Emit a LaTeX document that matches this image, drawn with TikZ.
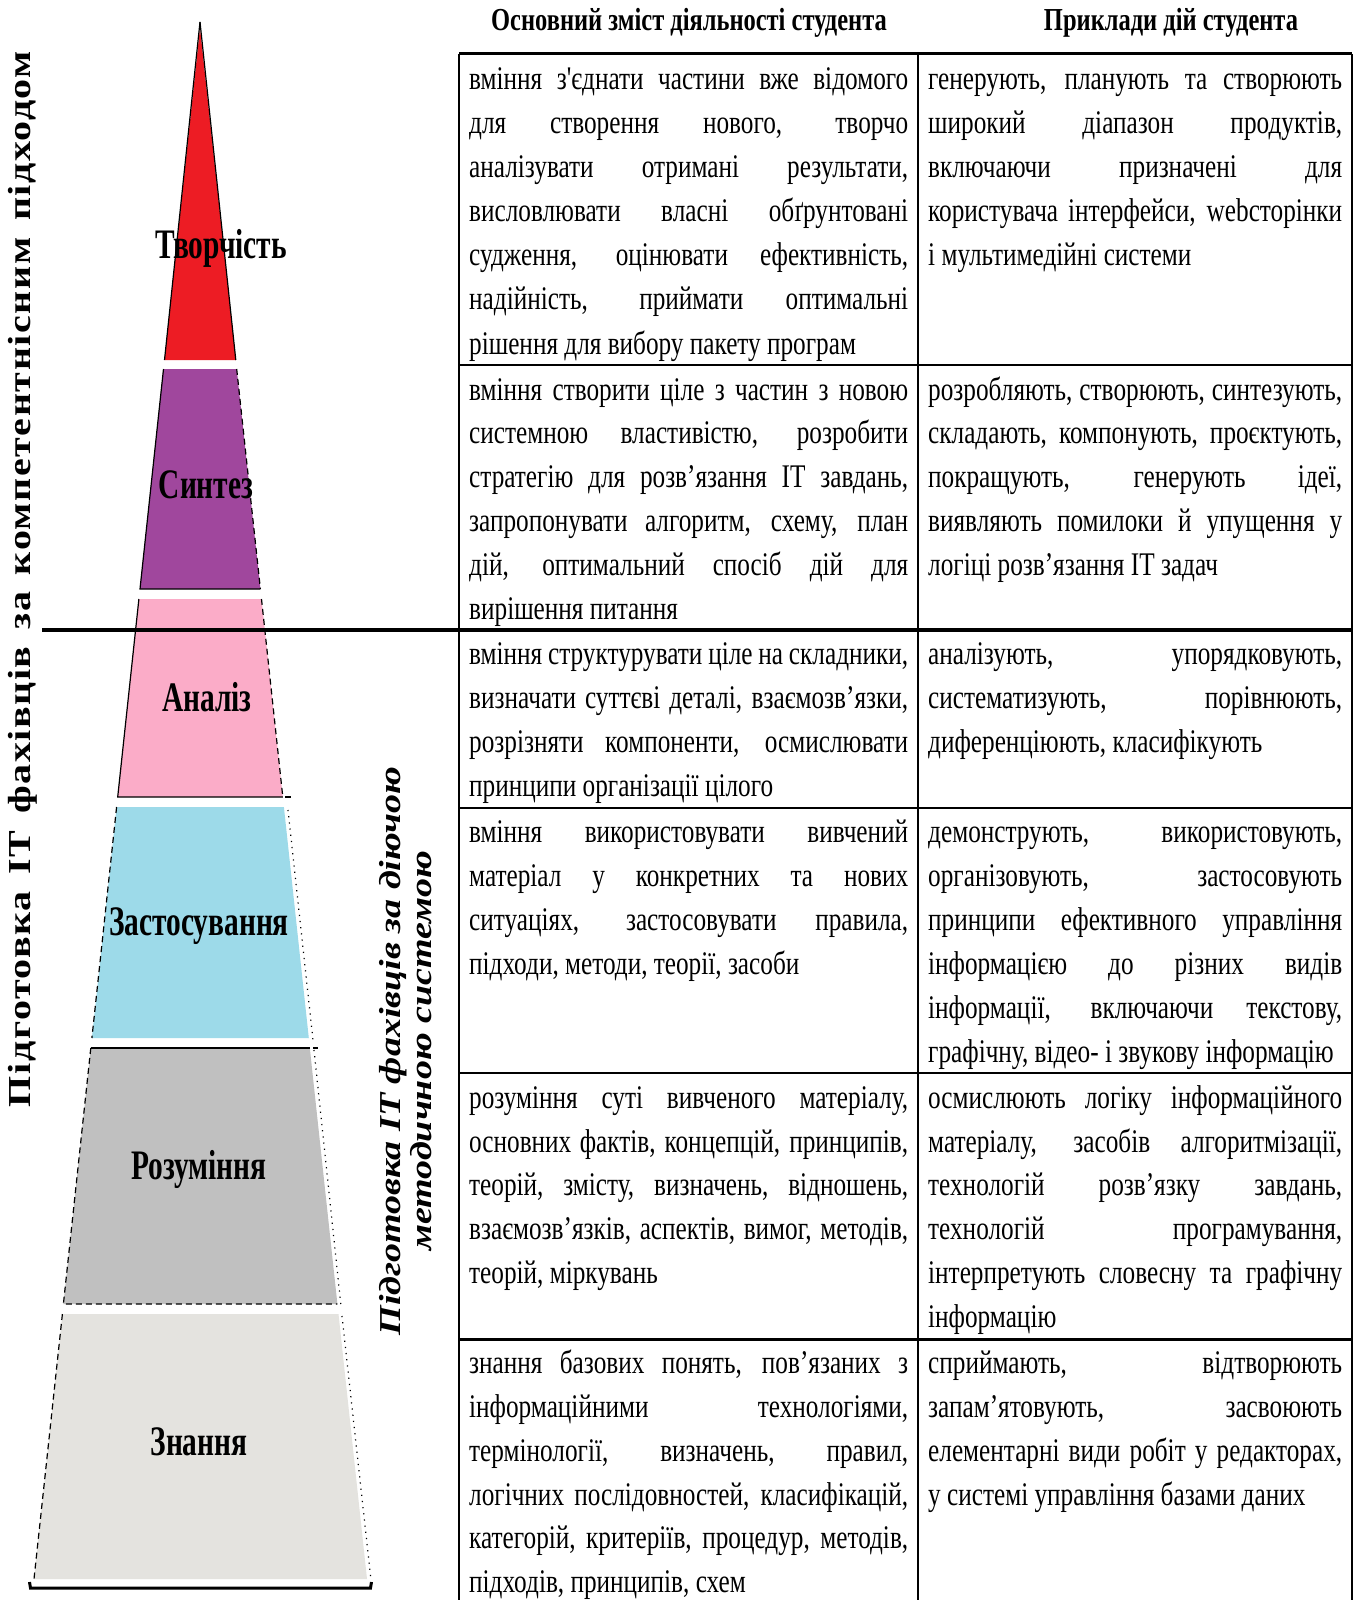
\documentclass[tikz,border=0pt]{standalone}
\usepackage{fontspec}
\usepackage{graphicx}
\setmainfont{Liberation Serif}
\newfontfamily\tabfont{Liberation Serif}[FakeStretch=0.765]
\newfontfamily\labfont{Liberation Serif}[FakeStretch=0.7]
\newfontfamily\vfont{Liberation Serif}[LetterSpace=4]
\definecolor{cred}{HTML}{ED1C24}
\definecolor{cpurple}{HTML}{A0479D}
\definecolor{cpink}{HTML}{FBACC8}
\definecolor{cblue}{HTML}{9DDAE9}
\definecolor{cgray}{HTML}{C0C0C0}
\definecolor{clight}{HTML}{E4E3DF}
\tikzset{
  lab/.style={font=\labfont\bfseries\fontsize{42}{44}\selectfont, inner sep=0pt},
  cell/.style={font=\tabfont\fontsize{33}{38}\selectfont, inner sep=0pt, anchor=mid west},
  hdr/.style={font=\tabfont\bfseries\fontsize{32}{36}\selectfont, inner sep=0pt},
  edge/.style={line width=1.2pt, black},
  dedge/.style={line width=1.2pt, black, dash pattern=on 6pt off 4pt},
  oedge/.style={line width=1.2pt, black, dash pattern=on 1.2pt off 5pt},
  grid/.style={line width=1.3pt, black},
  rowline/.style={line width=2pt, black},
}
\newcommand\JA[3]{\node[cell] (#1) at (469,{#2+7}) {\makebox[439pt][s]{#3}};}
\newcommand\NA[3]{\node[cell] (#1) at (469,{#2+7}) {#3};}
\newcommand\JB[3]{\node[cell] (#1) at (928,{#2+7}) {\makebox[414pt][s]{#3}};}
\newcommand\NB[3]{\node[cell] (#1) at (928,{#2+7}) {#3};}
\begin{document}
\begin{tikzpicture}[x=1pt,y=-1pt]
\useasboundingbox (0,0) rectangle (1360,1600);
\fill[white] (0,0) rectangle (1360,1600);
% pyramid layers
\fill[cred] (200,28) -- (235.8,360) -- (164.5,360) -- cycle;
\fill[cpurple] (163.5,369) -- (236.7,369) -- (260.4,589) -- (140,589) -- cycle;
\fill[cpink] (138.9,599) -- (261.5,599) -- (282.8,797) -- (117.7,797) -- cycle;
\fill[cblue] (116.6,807) -- (283.9,807) -- (308.8,1038) -- (91.9,1038) -- cycle;
\fill[cgray] (90.8,1048) -- (309.8,1048) -- (337.4,1304) -- (63.4,1304) -- cycle;
\fill[clight] (62.4,1314) -- (338.5,1314) -- (367,1579) -- (34,1579) -- cycle;
% outlines
\draw[edge] (200,22) -- (164.5,360);
\draw[edge] (200,22) -- (235.8,360);
\draw[edge] (163.5,369) -- (140,589) -- (260.4,589);
\draw[dedge] (236.7,369) -- (260.4,589);
\draw[edge] (138.9,599) -- (117.7,797) -- (282.8,797);
\draw[edge] (285,797) -- (291,797);
\draw[dedge] (261.5,599) -- (282.8,797);
\draw[dedge] (116.6,807) -- (91.9,1038);
\draw[oedge] (288,810) -- (313,1040);
\draw[edge] (90.8,1048) -- (309.8,1048);
\draw[edge] (313,1048) -- (318,1048);
\draw[dedge] (90.8,1048) -- (63.4,1304) -- (337.4,1304);
\draw[oedge] (314,1050) -- (341,1306);
\draw[dedge] (62.4,1314) -- (34,1579);
\draw[oedge] (342,1316) -- (371,1580);
\draw[line width=3pt] (29.5,1582) -- (30.5,1588) -- (370.5,1588) -- (371.5,1582);
% labels
\node[lab] (tvor) at (221,248) {Творчість};
\node[lab] (synt) at (206,485) {Синтез};
\node[lab] (anal) at (207,697) {Аналіз};
\node[lab] (zast) at (199,926) {Застосування};
\node[lab] (rozum) at (199,1169) {Розуміння};
\node[lab] (znan) at (199,1442) {Знання};
% vertical texts
\node[rotate=90, inner sep=0pt] (vleft) at (23,579) {\scalebox{1}[0.8]{\vfont\bfseries\fontsize{40}{42}\selectfont\makebox[1056pt][s]{Підготовка ІТ фахівців за компетентнісним підходом}}};
\node[rotate=90, inner sep=0pt] (vit1) at (393,1051) {\scalebox{1}[0.8]{\bfseries\itshape\fontsize{38}{40}\selectfont Підготовка ІТ фахівців за діючою}};
\node[rotate=90, inner sep=0pt] (vit2) at (421,1051) {\scalebox{1}[0.8]{\bfseries\itshape\fontsize{38}{40}\selectfont методичною системою}};
% table lines
\draw[line width=3pt] (459,54) -- (1352,54);
\draw[grid] (459,54) -- (459,1600);
\draw[grid] (918,54) -- (918,1600);
\draw[grid] (1352,54) -- (1352,1600);
\draw[rowline] (459,365) -- (1352,365);
\draw[line width=4pt] (42,630) -- (1352,630);
\draw[rowline] (459,808) -- (1352,808);
\draw[rowline] (459,1073) -- (1352,1073);
\draw[line width=3pt] (459,1339) -- (1352,1339);
% headers
\node[hdr] (h1) at (689,23) {Основний зміст діяльності студента};
\node[hdr] (h2) at (1171,23) {Приклади дій студента};
% row 1
\JA{a11}{80.6}{вміння з'єднати частини вже відомого}
\JA{a12}{124.5}{для створення нового, творчо}
\JA{a13}{168.4}{аналізувати отримані результати,}
\JA{a14}{212.2}{висловлювати власні обґрунтовані}
\JA{a15}{256.1}{судження, оцінювати ефективність,}
\JA{a16}{300.0}{надійність, приймати оптимальні}
\NA{a17}{344.9}{рішення для вибору пакету програм}
\JB{b11}{80.6}{генерують, планують та створюють}
\JB{b12}{124.5}{широкий діапазон продуктів,}
\JB{b13}{168.4}{включаючи призначені для}
\JB{b14}{212.2}{користувача інтерфейси, webсторінки}
\NB{b15}{256.1}{і мультимедійні системи}
% row 2
\JA{a21}{390.8}{вміння створити ціле з частин з новою}
\JA{a22}{434.6}{системною властивістю, розробити}
\JA{a23}{478.5}{стратегію для розв’язання ІТ завдань,}
\JA{a24}{522.4}{запропонувати алгоритм, схему, план}
\JA{a25}{566.3}{дій, оптимальний спосіб дій для}
\NA{a26}{610.1}{вирішення питання}
\JB{b21}{390.8}{розробляють, створюють, синтезують,}
\JB{b22}{434.6}{складають, компонують, проєктують,}
\JB{b23}{478.5}{покращують, генерують ідеї,}
\JB{b24}{522.4}{виявляють помилоки й упущення у}
\NB{b25}{566.3}{логіці розв’язання ІТ задач}
% row 3
\JA{a31}{655.0}{вміння структурувати ціле на складники,}
\JA{a32}{698.9}{визначати суттєві деталі, взаємозв’язки,}
\JA{a33}{742.8}{розрізняти компоненти, осмислювати}
\NA{a34}{786.7}{принципи організації цілого}
\JB{b31}{655.0}{аналізують, упорядковують,}
\JB{b32}{698.9}{систематизують, порівнюють,}
\NB{b33}{742.8}{диференціюють, класифікують}
% row 4
\JA{a41}{833.6}{вміння використовувати вивчений}
\JA{a42}{877.5}{матеріал у конкретних та нових}
\JA{a43}{921.3}{ситуаціях, застосовувати правила,}
\NA{a44}{965.2}{підходи, методи, теорії, засоби}
\JB{b41}{833.6}{демонструють, використовують,}
\JB{b42}{877.5}{організовують, застосовують}
\JB{b43}{921.3}{принципи ефективного управління}
\JB{b44}{965.2}{інформацією до різних видів}
\JB{b45}{1009.1}{інформації, включаючи текстову,}
\NB{b46}{1052.9}{графічну, відео- і звукову інформацію}
% row 5
\JA{a51}{1098.9}{розуміння суті вивченого матеріалу,}
\JA{a52}{1142.7}{основних фактів, концепцій, принципів,}
\JA{a53}{1186.6}{теорій, змісту, визначень, відношень,}
\JA{a54}{1230.5}{взаємозв’язків, аспектів, вимог, методів,}
\NA{a55}{1274.4}{теорій, міркувань}
\JB{b51}{1098.9}{осмислюють логіку інформаційного}
\JB{b52}{1142.7}{матеріалу, засобів алгоритмізації,}
\JB{b53}{1186.6}{технологій розв’язку завдань,}
\JB{b54}{1230.5}{технологій програмування,}
\JB{b55}{1274.4}{інтерпретують словесну та графічну}
\NB{b56}{1318.2}{інформацію}
% row 6
\JA{a61}{1364.1}{знання базових понять, пов’язаних з}
\JA{a62}{1408.0}{інформаційними технологіями,}
\JA{a63}{1451.9}{термінології, визначень, правил,}
\JA{a64}{1495.8}{логічних послідовностей, класифікацій,}
\JA{a65}{1539.6}{категорій, критеріїв, процедур, методів,}
\NA{a66}{1583.5}{підходів, принципів, схем}
\JB{b61}{1364.1}{сприймають, відтворюють}
\JB{b62}{1408.0}{запам’ятовують, засвоюють}
\JB{b63}{1451.9}{елементарні види робіт у редакторах,}
\NB{b64}{1495.8}{у системі управління базами даних}
\end{tikzpicture}
\end{document}
